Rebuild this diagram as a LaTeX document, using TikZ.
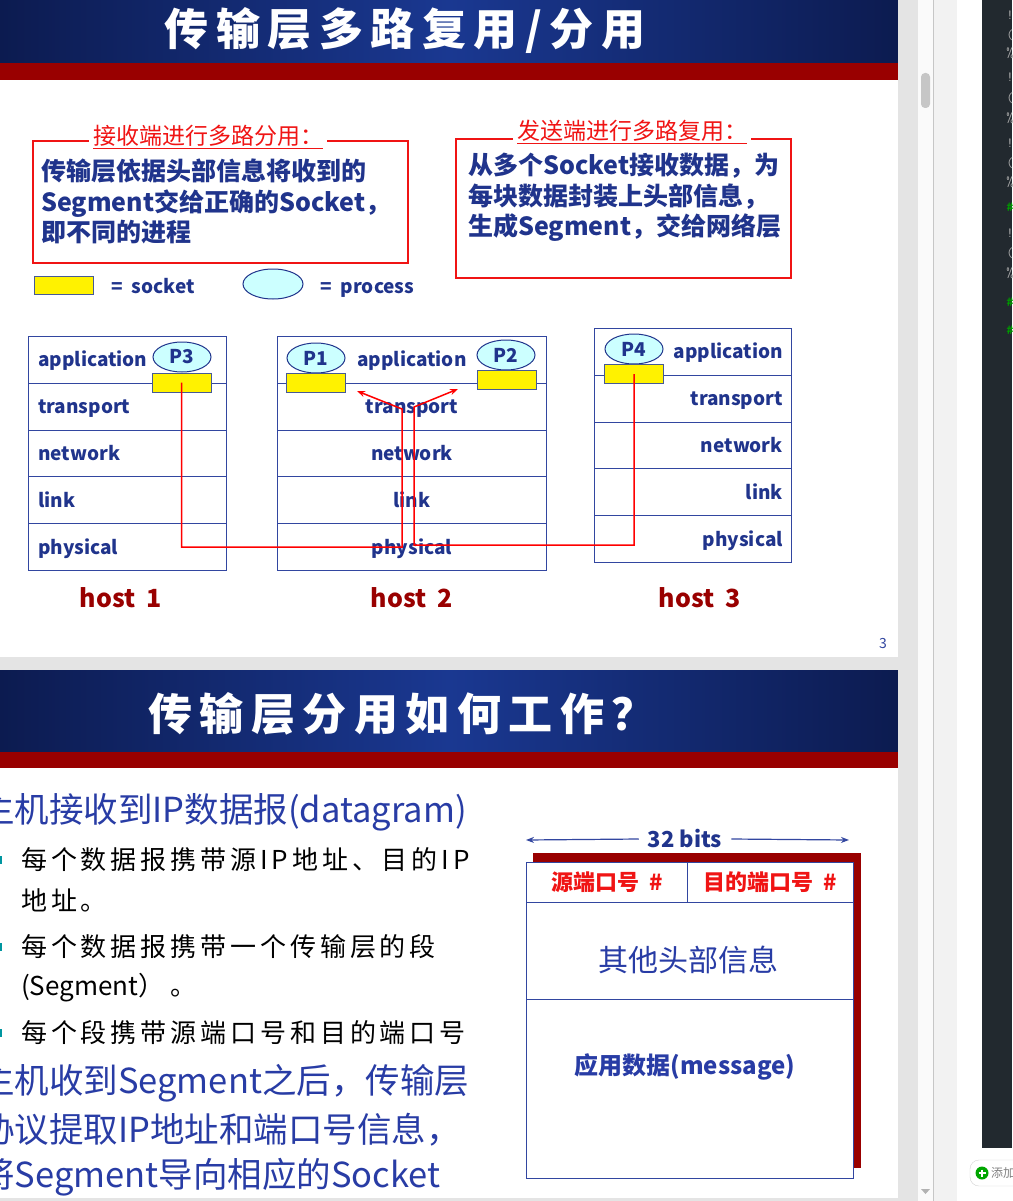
\documentclass[tikz,border=0pt]{standalone}
\usepackage{fontspec}
\setmainfont{Noto Sans CJK SC}
\newfontfamily\ttlfont[LetterSpace=17]{Noto Sans CJK SC}
\newfontfamily\songfont[LetterSpace=15]{Noto Sans CJK SC}
\usetikzlibrary{arrows.meta,positioning,shapes.geometric}
\definecolor{tdark}{RGB}{12,27,80}
\definecolor{tblue}{RGB}{26,56,145}
\definecolor{barred}{RGB}{153,0,0}
\definecolor{txtblue}{RGB}{32,52,140}
\definecolor{s2blue}{RGB}{40,60,165}
\definecolor{lyrblue}{RGB}{50,70,160}
\definecolor{sockline}{RGB}{70,90,150}
\definecolor{proccol}{RGB}{204,255,255}
\definecolor{boxred}{RGB}{240,20,20}
\definecolor{muxred}{RGB}{255,0,0}
\definecolor{hostred}{RGB}{153,0,0}
\definecolor{bulcol}{RGB}{0,150,160}
\definecolor{gapgray}{RGB}{228,228,228}
\definecolor{codebg}{RGB}{34,41,47}

\begin{document}
\begin{tikzpicture}[x=1pt,y=-1pt,
  >={Stealth[length=8pt,width=6pt]},
  layer/.style={draw=lyrblue,line width=1pt,minimum height=46.8pt,inner sep=0pt,anchor=north west},
  lyrtxt/.style={text=txtblue,font=\fontsize{19}{19}\selectfont\bfseries,inner sep=0pt},
  sock/.style={draw=sockline,fill=yellow,line width=1pt,minimum width=59pt,minimum height=19pt,inner sep=0pt},
  proc/.style={ellipse,draw=txtblue,fill=proccol,line width=1pt,minimum width=58pt,minimum height=30pt,inner sep=0pt,
    text=txtblue,font=\fontsize{19}{19}\selectfont\bfseries},
  hostlbl/.style={text=hostred,font=\fontsize{25}{25}\selectfont\bfseries},
  redbox/.style={draw=boxred,line width=1.6pt},
  boxttl/.style={fill=white,text=boxred,font=\fontsize{23}{23}\selectfont,inner sep=4pt},
  boxtxt/.style={anchor=north west,align=left,inner sep=0pt,text=txtblue,font=\fontsize{25}{30.5}\selectfont\bfseries},
  legtxt/.style={anchor=base west,text=txtblue,font=\fontsize{19}{19}\selectfont\bfseries},
  mux/.style={draw=muxred,line width=1.5pt},
  ttl/.style={text=white,font=\fontsize{44}{44}\ttlfont\bfseries},
  bigtxt/.style={anchor=west,inner sep=0pt,text=s2blue,font=\fontsize{34.5}{34.5}\selectfont},
  bul/.style={anchor=west,inner sep=0pt,text=black,font=\fontsize{26}{26}\songfont},
  fld/.style={draw=lyrblue,fill=white,line width=1.2pt,anchor=north west,inner sep=0pt},
  codech/.style={text=gray!70,font=\fontsize{14}{14}\ttfamily,inner sep=0pt},
]
\useasboundingbox (0,0) rectangle (1012,1201);
\fill[white] (0,0) rectangle (1012,1201);

% --- slide 1: title bar ---
\shade[left color=tdark,right color=tdark,middle color=tblue] (0,0) rectangle (898,63);
\fill[barred] (0,63) rectangle (898,80);
\node[ttl] (title1) at (405,31) {传输层多路复用/分用};

% --- receiver / sender notes ---
\draw[redbox] (33,141) rectangle (408,263);
\node[boxttl] (rxttl) at (208,137) {\underline{接收端进行多路分用：}};
\node[boxtxt] (rxtxt) at (41,159) {传输层依据头部信息将收到的\\Segment交给正确的Socket，\\即不同的进程};
\draw[redbox] (456,139) rectangle (791,278);
\node[boxttl] (txttl) at (632,132) {\underline{发送端进行多路复用：}};
\node[boxtxt] (txtxt) at (468,153) {从多个Socket接收数据，为\\每块数据封装上头部信息，\\生成Segment，交给网络层};

% --- legend ---
\node[sock,minimum height=18pt] (legsock) at (63.5,285) {};
\node[legtxt] (legs) at (108,293) {=~~socket};
\node[proc,minimum width=60pt] (legproc) at (273,284) {};
\node[legtxt] (legp) at (317,293) {=~~process};

% --- protocol stacks ---
\foreach \n [count=\i] in {application,transport,network,link,physical} {
  \node[layer,minimum width=198pt] (h1-\i) at (28,{336+46.8*(\i-1)}) {};
  \node[layer,minimum width=269pt] (h2-\i) at (277,{336+46.8*(\i-1)}) {};
  \node[layer,minimum width=197pt] (h3-\i) at (594,{328+46.8*(\i-1)}) {};
  \node[lyrtxt,anchor=base west] at ([xshift=10pt,yshift=-7pt]h1-\i.west) {\n};
  \node[lyrtxt,anchor=base] at ([yshift=-7pt]h2-\i.center) {\n};
  \node[lyrtxt,anchor=base east] at ([xshift=-9pt,yshift=-7pt]h3-\i.east) {\n};
}
\node[proc] (p3) at (182,357) {P3};
\node[sock] (s3) at (181.5,382.5) {};
\node[proc] (p1) at (316,358) {P1};
\node[sock] (s1) at (316,382.5) {};
\node[proc] (p2) at (506,355) {P2};
\node[sock] (s2) at (506.5,380) {};
\node[proc] (p4) at (634,349) {P4};
\node[sock] (s4) at (634,374) {};
\node[hostlbl] (host1) at (121,598) {host~~1};
\node[hostlbl] (host2) at (412,598) {host~~2};
\node[hostlbl] (host3) at (700,598) {host~~3};

% --- segments delivered up through host 2 ---
\coordinate (a1) at (402,547);
\coordinate (b1) at (402,409);
\coordinate (e1) at (357,391);
\coordinate (a2) at (414,545);
\coordinate (b2) at (414,407);
\coordinate (e2) at (458,389);
\draw[mux,->] (s3.center) |- (a1) -- (b1) -- (e1);
\draw[mux,->] (s4.center) |- (a2) -- (b2) -- (e2);

\node[text=lyrblue,font=\fontsize{14}{14}\selectfont] (pg) at (883,644) {3};

% --- gap between slides ---
\fill[gapgray] (0,657) rectangle (898,670);
\fill[gapgray] (0,1198) rectangle (898,1201);

% --- slide 2: title bar ---
\shade[left color=tdark,right color=tdark,middle color=tblue] (0,670) rectangle (898,752);
\fill[barred] (0,752) rectangle (898,768);
\node[ttl] (title2) at (402,714) {传输层分用如何工作？};

% --- slide 2: text ---
\node[bigtxt] (l1) at (-20,812) {主机接收到IP数据报(datagram)};
\foreach \yy in {860,947,1033}
  \fill[bulcol] (-4,{\yy-4}) rectangle (2,{\yy+4});
\node[bul] (b1) at (21,860) {每个数据报携带源IP地址、目的IP};
\node[bul] (b2) at (21,900) {地址。};
\node[bul] (b3) at (21,947) {每个数据报携带一个传输层的段};
\node[bul,font=\fontsize{26}{26}\selectfont] (b4) at (21,988) {(Segment）~。};
\node[bul] (b5) at (21,1033) {每个段携带源端口号和目的端口号};
\node[bigtxt] (l2) at (-20,1083) {主机收到Segment之后，传输层};
\node[bigtxt] (l3) at (-20,1130) {协议提取IP地址和端口号信息，};
\node[bigtxt] (l4) at (-20,1177) {将Segment导向相应的Socket};

% --- segment format ---
\node[text=txtblue,font=\fontsize{22}{22}\selectfont\bfseries,inner sep=9pt] (bits) at (685,839) {32 bits};
\coordinate (bl) at (526,840);
\coordinate (br) at (849,840);
\draw[<-,lyrblue,line width=1.2pt] (bl) -- (bits.west);
\draw[->,lyrblue,line width=1.2pt] (bits.east) -- (br);
\fill[hostred] (533,853) rectangle (861,1168);
\node[fld,minimum width=161pt,minimum height=40pt,text=boxred,font=\fontsize{22}{22}\selectfont\bfseries] (srcp) at (526,862) {源端口号~~\#};
\node[fld,minimum width=166pt,minimum height=40pt,text=boxred,font=\fontsize{22}{22}\selectfont\bfseries] (dstp) at (687,862) {目的端口号~~\#};
\node[fld,minimum width=327pt,minimum height=97pt] (other) at (526,902) {};
\node[text=s2blue,font=\fontsize{30}{30}\selectfont] (othtxt) at (688,960) {其他头部信息};
\node[fld,minimum width=327pt,minimum height=179pt] (data) at (526,999) {};
\node[text=s2blue,font=\fontsize{24}{24}\selectfont\bfseries] (msg) at (685,1067) {应用数据(message)};

% --- viewer frame on the right ---
\fill[gapgray] (898,0) rectangle (918,1201);
\fill[gray!4] (918,0) rectangle (933,1201);
\draw[gray!45] (933,0) -- (933,1201);
\fill[gray!10] (934,0) rectangle (957,1201);
\fill[gray!45,rounded corners=4pt] (921,73) rectangle (930,108);
\fill[gray!60] (921,1189) -- (930,1189) -- (925.5,1194) -- cycle;
\fill[codebg] (982,0) rectangle (1012,1148);
\foreach \c/\yy in {!/15,{(}/35,{\%}/53,!/77,{(}/98,{\%}/118,!/143,{(}/163,{\%}/182,!/233,{(}/253,{\%}/273}
  \node[codech] at (1010,\yy) {\c};
\foreach \yy in {207,302,330}
  \node[codech,text=green!60!black,font=\fontsize{14}{14}\ttfamily\bfseries] at (1010,\yy) {\#};
\draw[gray!35,fill=white,rounded corners=9pt] (970,1160) rectangle (1040,1186);
\fill[green!65!black] (982,1173) circle (6.5);
\draw[white,line width=1.5pt] (978.5,1173) -- (985.5,1173) (982,1169.5) -- (982,1176.5);
\node[anchor=west,text=gray,font=\fontsize{12}{12}\selectfont,inner sep=0pt] (add) at (991,1173) {添加};
\end{tikzpicture}
\end{document}
